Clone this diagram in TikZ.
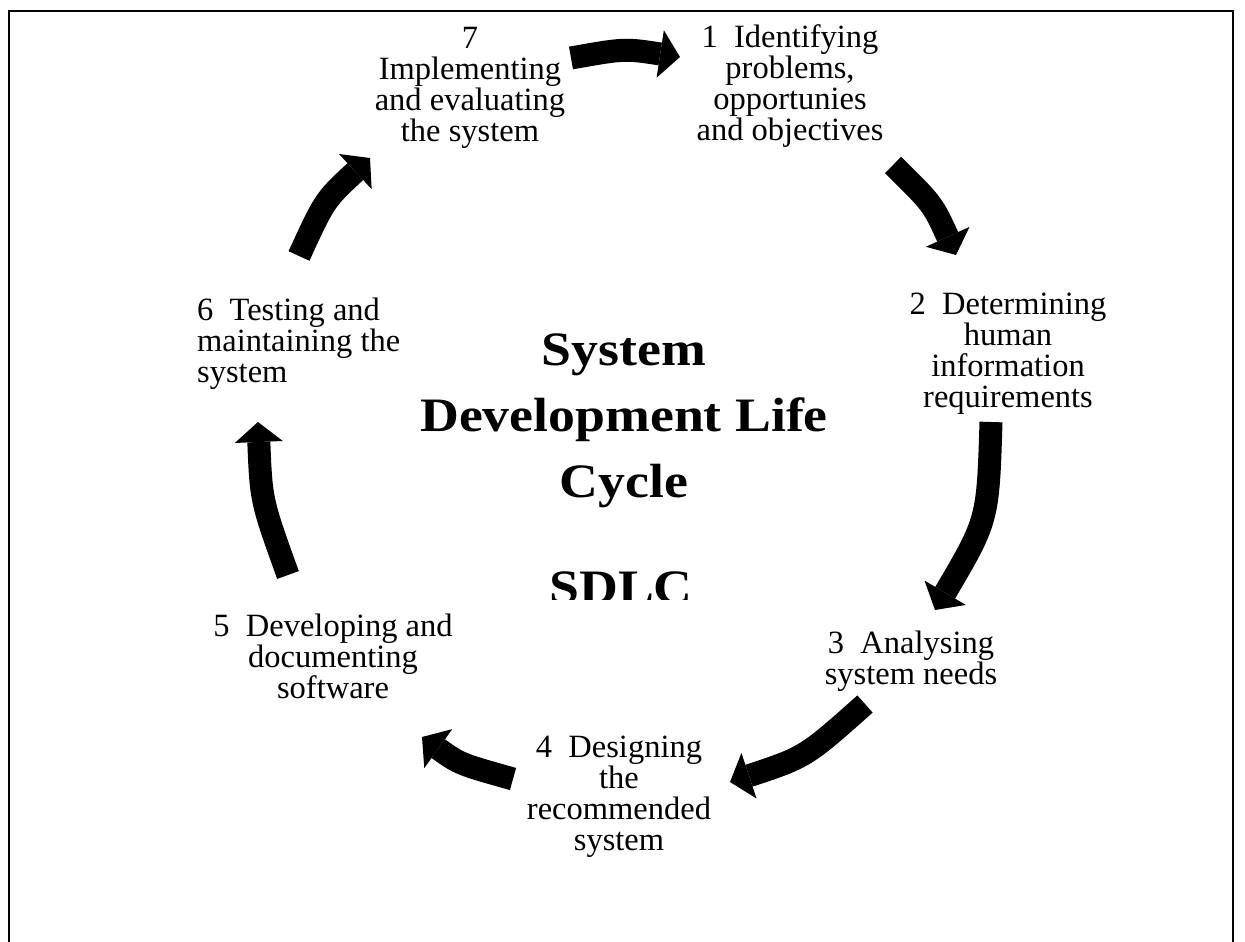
\documentclass[tikz,border=0pt]{standalone}
\usepackage{fontspec}
\setmainfont{Liberation Serif}
\newfontfamily\headfont[FakeStretch=1.12]{Liberation Serif}
\usetikzlibrary{arrows.meta}
\begin{document}
\begin{tikzpicture}[x=1pt,y=-1pt,
  % multi-line nodes: the base anchor sits on the last line
  phase/.style={font=\fontsize{32.5}{31}\selectfont, align=center, inner sep=0pt, anchor=base},
  title/.style={font=\headfont\bfseries\fontsize{48}{66}\selectfont, align=center, inner sep=0pt, anchor=base},
  cyclearrow/.style={line width=23pt, -{Triangle[length=20pt,width=48pt,line width=0pt]}}
]
\useasboundingbox (0,0) rectangle (1245,942);
\fill[white] (0,0) rectangle (1245,942);
% open frame: top and both sides
\draw[line width=2.5pt] (9,942) -- (9,11) -- (1233,11) -- (1233,942);

% the seven phases
\node[phase] (p7) at (470,141) {7\\Implementing\\and evaluating\\the system};
\node[phase] (p1) at (790,140) {1\hspace{0.5em}Identifying\\problems,\\opportunies\\and objectives};
\node[phase] (p2) at (1008,407) {2\hspace{0.5em}Determining\\human\\information\\requirements};
\node[phase] (p3) at (911,684) {3\hspace{0.5em}Analysing\\system needs};
\node[phase] (p4) at (619,850) {4\hspace{0.5em}Designing\\the\\recommended\\system};
\node[phase] (p5) at (333,698) {5\hspace{0.5em}Developing and\\documenting\\software};
\node[phase, align=left, anchor=base west] (p6) at (197,382) {6\hspace{0.5em}Testing and\\maintaining the\\system};

% centre title; the acronym is cut off along its foot
\node[title] (title) at (624,497) {System\\Development Life\\Cycle};
\begin{scope}
  \clip (450,520) rectangle (800,599);
  \node[title] (sdlc) at (621,603) {SDLC};
\end{scope}

% arrow ends and bends
\coordinate (a71s) at (571,58);  \coordinate (a71c) at (624.5,48.5); \coordinate (a71e) at (680,57);
\coordinate (a12s) at (893,165); \coordinate (a12c) at (932.7,204);  \coordinate (a12e) at (956,255);
\coordinate (a23s) at (991,422); \coordinate (a23c) at (988,520);    \coordinate (a23e) at (935,610);
\coordinate (a34s) at (865,704); \coordinate (a34c) at (805.5,757);  \coordinate (a34e) at (730,782);
\coordinate (a45s) at (513,779); \coordinate (a45c) at (459.7,764);  \coordinate (a45e) at (422,737);
\coordinate (a56s) at (288,575); \coordinate (a56c) at (261.2,500.7);\coordinate (a56e) at (258,422);
\coordinate (a67s) at (299,256); \coordinate (a67c) at (324.7,200);  \coordinate (a67e) at (370,158);

\draw[cyclearrow] (a71s) .. controls (a71c) .. (a71e);
\draw[cyclearrow] (a12s) .. controls (a12c) .. (a12e);
\draw[cyclearrow] (a23s) .. controls (a23c) .. (a23e);
\draw[cyclearrow] (a34s) .. controls (a34c) .. (a34e);
\draw[cyclearrow] (a45s) .. controls (a45c) .. (a45e);
\draw[cyclearrow] (a56s) .. controls (a56c) .. (a56e);
\draw[cyclearrow] (a67s) .. controls (a67c) .. (a67e);
\end{tikzpicture}
\end{document}
